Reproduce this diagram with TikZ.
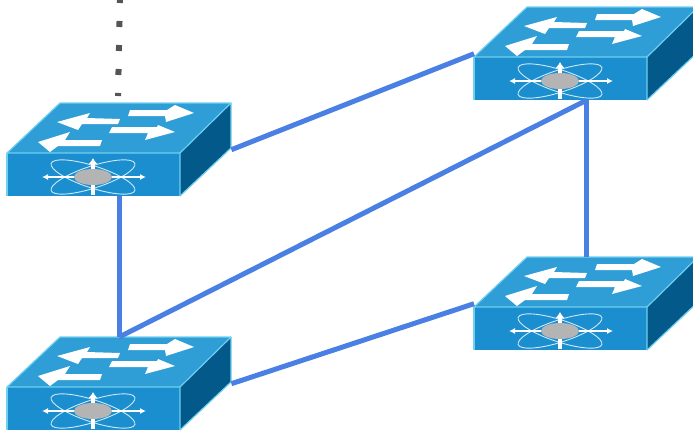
\documentclass[tikz,border=0pt]{standalone}
\usepackage{amsmath, color, tikz}
\usetikzlibrary{arrows.meta}
\def\Switches{upL/7/103, upR/474/7, lowL/7/337, lowR/474/257}
\newcommand{\Size}{1pt}
\definecolor{TopBlue}{HTML}{2F9DD6}
\definecolor{FrontBlue}{HTML}{1A8ECF}
\definecolor{SideBlue}{HTML}{03598A}
\definecolor{RimBlue}{HTML}{6FD0F0}
\definecolor{LinkBlue}{HTML}{4A80E4}
\definecolor{HubGray}{HTML}{B4B4B4}
\definecolor{DotGray}{HTML}{555555}
\tikzset{Switch/.style={
		inner sep=0pt,
		minimum width=224*\Size,
		minimum height=93*\Size,
		anchor=north west,
	},
	Rim/.style={draw=RimBlue, line width=1.2pt, line join=round},
	Link/.style={draw=LinkBlue, line width=5pt},
	Dots/.style={draw=DotGray, line width=6pt, dash pattern=on 6pt off 18pt},
	Flow/.style={fill=white},
	Orbit/.style={draw=white!80!FrontBlue, line width=0.9pt},
}

\begin{document}
\begin{tikzpicture}[x=\Size,y=-\Size]
		\useasboundingbox (0,0) rectangle (693,432);
		\clip (0,0) rectangle (693,432);
		\foreach \Name/\PosX/\PosY in \Switches {%
			\node [Switch] (\Name) at (\PosX,\PosY) {};
			\begin{scope}[shift={(\PosX,\PosY)}]
				% the three faces
				\fill [TopBlue] (0,50) -- (53,0) -- (224,0) -- (173,50) -- cycle;
				\fill [FrontBlue] (0,50) -- (173,50) -- (173,93) -- (0,93) -- cycle;
				\fill [SideBlue] (173,50) -- (224,0) -- (224,45) -- (173,93) -- cycle;
				\draw [Rim] (173,93) -- (173,50) -- (0,50) -- (53,0) -- (224,0) -- (173,50);
				\draw [Rim] (0,50) -- (0,93);
				\draw [Rim] (224,0) -- (224,45) -- (173,93);
				% arrows on top
				\fill [Flow] (123,7) -- (160,7) -- (168,2) -- (187,10) -- (159,19) -- (158,13) -- (121,13) -- cycle;
				\fill [Flow] (50,19) -- (83,10) -- (80,15) -- (113,16) -- (111,21) -- (75,21) -- (71,27) -- cycle;
				\fill [Flow] (105,24) -- (150,24) -- (151,22) -- (168,29) -- (138,37) -- (141,30) -- (102,30) -- cycle;
				\fill [Flow] (31,39) -- (63,29) -- (58,37) -- (95,37) -- (93,43) -- (51,43) -- (43,49) -- cycle;
				% hub on the front
				\draw [Orbit, rotate around={18:(86,74)}] (86,74) ellipse (44 and 11);
				\draw [Orbit, rotate around={-18:(86,74)}] (86,74) ellipse (44 and 11);
				\draw [white, line width=1.4pt, -{Latex[length=6pt,width=6pt]}] (86,74) -- (35,74);
				\draw [white, line width=1.4pt, -{Latex[length=6pt,width=6pt]}] (86,74) -- (139,74);
				\draw [white, line width=3.5pt, -{Latex[length=6pt,width=9pt]}] (86,74) -- (86,55);
				\draw [white, line width=3.5pt] (86,74) -- (86,92);
				\fill [HubGray] (86,74) ellipse (19 and 8);
			\end{scope}
		}
		% links
		\draw [Link] (upL.east) -- (upR.west);
		\draw [Link] (upL.south) -- (lowL.north);
		\draw [Link] (lowL.north) -- (upR.south);
		\draw [Link] (upR.south) -- (lowR.north);
		\draw [Link] (lowL.east) -- (lowR.west);
		% dotted stub going out of the top
		\coordinate (stubTop) at (120,-3);
		\coordinate (stubEnd) at (118,96);
		\draw [Dots] (stubTop) -- (stubEnd);
	\end{tikzpicture}
\end{document}
